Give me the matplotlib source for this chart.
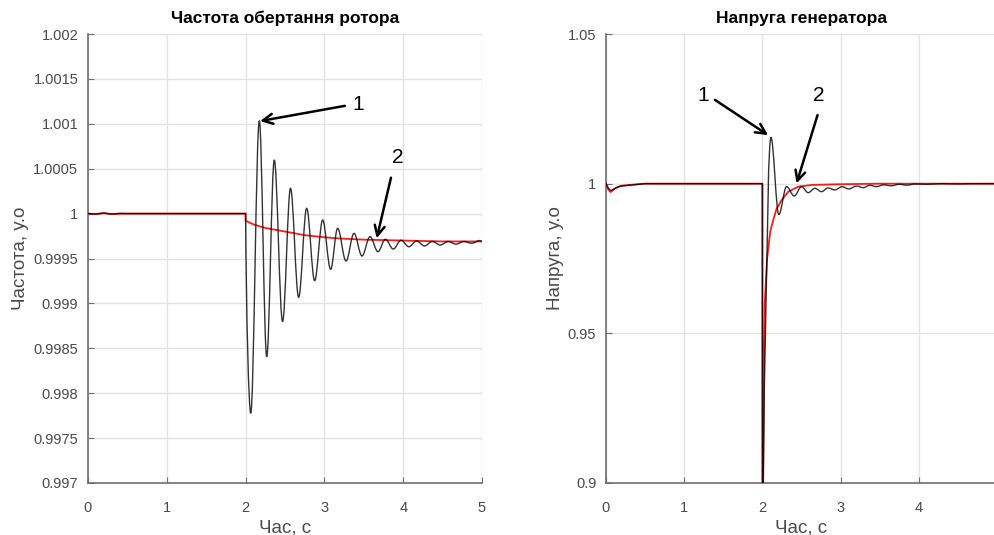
import matplotlib
matplotlib.use("Agg")
import matplotlib.pyplot as plt
from matplotlib.path import Path
from matplotlib.patches import PathPatch

plt.rcParams['font.family'] = ['Liberation Sans', 'DejaVu Sans']

# ---------------- data: rotor speed ----------------
# curve 1 (black): steady part, then the swing extremes after the fault
t_freq_1_steady = [0, 0.1, 0.2, 0.3, 0.4, 0.5, 2.0]
freq_1_steady = [1.0, 0.999995, 1.000005, 0.999995, 1.000003, 1.0, 1.0]
t_freq_1_swing = [2.0, 2.065, 2.174, 2.268, 2.364, 2.469, 2.57, 2.673, 2.775, 2.876, 2.978,
                  3.079, 3.168, 3.274, 3.376, 3.477, 3.579, 3.68, 3.773, 3.875, 3.972, 4.073,
                  4.17, 4.27, 4.37, 4.47, 4.57, 4.67, 4.77, 4.87, 4.97, 5.0]
freq_1_swing = [1.0, 0.997776, 1.001035, 0.998407, 1.000597, 0.998797, 1.000282, 0.999068,
                1.000059, 0.999253, 0.999929, 0.99938, 0.999836, 0.999472, 0.99978, 0.999528,
                0.999743, 0.999576, 0.999714, 0.999606, 0.999703, 0.999631, 0.999695, 0.99964,
                0.99969, 0.99965, 0.99969, 0.99966, 0.99969, 0.99967, 0.9997, 0.99969]

# curve 2 (red)
t_freq_2 = [0, 0.1, 0.2, 0.3, 0.5, 2.0, 2.0, 2.1, 2.25, 2.5, 2.75, 3.0, 3.25, 3.5, 3.75, 4.0, 4.5, 5.0]
freq_2 = [1.0, 0.999995, 1.000005, 0.999995, 1.0, 1.0, 0.99992, 0.99988, 0.99984, 0.9998,
          0.99976, 0.999736, 0.99972, 0.99971, 0.999705, 0.9997, 0.99969, 0.99969]

# ---------------- data: generator voltage ----------------
t_volt_1_steady = [0, 0.03, 0.064, 0.12, 0.18, 0.35, 0.5, 2.0, 2.003, 2.012, 2.025, 2.05, 2.075]
volt_1_steady = [1.0, 0.9985, 0.9977, 0.9985, 0.9992, 0.9996, 1.0, 1.0, 0.80, 0.90, 0.932,
                 0.965, 0.998]
t_volt_1_swing = [2.075, 2.109, 2.21, 2.309, 2.407, 2.50, 2.586, 2.671, 2.756, 2.841, 2.927,
                  3.02, 3.105, 3.204, 3.289, 3.374, 3.459, 3.55, 3.65, 3.75, 3.85, 3.95, 4.1,
                  4.3, 4.5, 4.7, 5.0]
volt_1_swing = [0.998, 1.0155, 0.9897, 0.9990, 0.9959, 0.9990, 0.9970, 0.99845, 0.99733,
                0.99857, 0.9979, 0.9990, 0.99823, 0.9992, 0.99866, 0.99945, 0.9990, 0.9996,
                0.9993, 0.9998, 0.9995, 0.9999, 0.9998, 1.0, 0.9999, 1.0, 1.0]

t_volt_2 = [0, 0.03, 0.06, 0.12, 0.2, 0.35, 0.5, 2.0, 2.0, 2.008, 2.018, 2.03, 2.06, 2.1, 2.14,
            2.18, 2.245, 2.33, 2.46, 2.63, 2.97, 3.5, 5.0]
volt_2 = [1.0, 0.998, 0.9972, 0.9985, 0.9993, 0.9997, 1.0, 1.0, 0.80, 0.90, 0.935, 0.96, 0.975,
          0.984, 0.988, 0.9915, 0.9945, 0.9973, 0.999, 0.99957, 0.9998, 1.0, 1.0]

freq_yticks = [0.997, 0.9975, 0.998, 0.9985, 0.999, 0.9995, 1.0, 1.0005, 1.001, 1.0015, 1.002]
freq_ylabels = ["0.997", "0.9975", "0.998", "0.9985", "0.999", "0.9995", "1", "1.0005",
                "1.001", "1.0015", "1.002"]
volt_yticks = [0.9, 0.95, 1.0, 1.05]
volt_ylabels = ["0.9", "0.95", "1", "1.05"]
freq_xticks = [0, 1, 2, 3, 4, 5]
volt_xticks = [0, 1, 2, 3, 4]

titles = ["Частота обертання ротора", "Напруга генератора"]
ylabels = ["Частота, у.о", "Напруга, у.о"]
xlabel = "Час, с"

W, H = 994, 535
fig = plt.figure(figsize=(W / 100, H / 100), dpi=100)


def px_axes(left, right, top, bottom):
    return fig.add_axes([left / W, (H - bottom) / H, (right - left) / W, (bottom - top) / H])


def smooth_swing(ax, ts, vs, **kw):
    """Draw a swing through its extremes with flat tangents at each extreme."""
    verts = [(ts[0], vs[0])]
    codes = [Path.MOVETO]
    for i in range(1, len(ts)):
        t0, v0, t1, v1 = ts[i - 1], vs[i - 1], ts[i], vs[i]
        d = (t1 - t0) * 0.36
        if i == 1:
            c1 = (t0 + d * 0.3, v0 + (v1 - v0) * 0.5)
        else:
            c1 = (t0 + d, v0)
        verts += [c1, (t1 - d, v1), (t1, v1)]
        codes += [Path.CURVE4] * 3
    ax.add_patch(PathPatch(Path(verts, codes), fill=False, **kw))


ax1 = px_axes(88, 482, 34, 483)
ax2 = px_axes(606, 997, 34, 483)

tick_col = '#4a4a4a'
spine_col = '#6e6e6e'

for ax, xt, yt, yl, ylim, title, ylab, ylx in [
        (ax1, freq_xticks, freq_yticks, freq_ylabels, (0.997, 1.002), titles[0], ylabels[0], -0.149),
        (ax2, volt_xticks, volt_yticks, volt_ylabels, (0.9, 1.05), titles[1], ylabels[1], -0.108)]:
    ax.set_xlim(0, 5)
    ax.set_ylim(*ylim)
    ax.set_xticks(xt)
    ax.set_yticks(yt)
    ax.set_yticklabels(yl)
    ax.grid(True, color='#e3e3e3', linewidth=1.0)
    ax.set_axisbelow(True)
    for s in ['top', 'right']:
        ax.spines[s].set_visible(False)
    for s in ['left', 'bottom']:
        ax.spines[s].set_color(spine_col)
        ax.spines[s].set_linewidth(1.2)
    ax.tick_params(direction='in', length=4, width=0.8, colors=spine_col,
                   labelcolor=tick_col, labelsize=10.5)
    ax.tick_params(axis='x', pad=13)
    ax.tick_params(axis='y', pad=7)
    ax.text(0.5, 1.035, title, transform=ax.transAxes, ha='center', va='center',
            fontsize=12.5, fontweight='bold', color='black')
    ax.set_ylabel(ylab, fontsize=13.5, color=tick_col)
    ax.yaxis.set_label_coords(ylx, 0.5)
    ax.set_xlabel(xlabel, fontsize=13.5, color=tick_col, va='center')
    ax.xaxis.set_label_coords(0.5, -0.1)

red = '#ff1a1a'
ax1.plot(t_freq_2, freq_2, color=red, lw=1.3, zorder=3)
ax1.plot(t_freq_1_steady, freq_1_steady, color='black', lw=1.0, alpha=0.8, zorder=4)
smooth_swing(ax1, t_freq_1_swing, freq_1_swing, edgecolor='black', lw=1.0, alpha=0.8, zorder=4)

ax2.plot(t_volt_2, volt_2, color=red, lw=1.3, zorder=3)
ax2.plot(t_volt_1_steady, volt_1_steady, color='black', lw=1.0, alpha=0.8, zorder=4)
smooth_swing(ax2, t_volt_1_swing, volt_1_swing, edgecolor='black', lw=1.0, alpha=0.8, zorder=4)

arrow = dict(arrowstyle='->', color='black', lw=1.8, mutation_scale=18, shrinkA=0, shrinkB=0)
ax1.annotate('', xy=(2.183, 1.00103), xytext=(3.26, 1.0012), arrowprops=arrow, zorder=6)
ax1.text(3.43, 1.00122, '1', fontsize=15, ha='center', va='center')
ax1.annotate('', xy=(3.664, 0.999725), xytext=(3.845, 1.0004), arrowprops=arrow, zorder=6)
ax1.text(3.934, 1.00062, '2', fontsize=15, ha='center', va='center')

ax2.annotate('', xy=(2.074, 1.0162), xytext=(1.393, 1.028), arrowprops=arrow, zorder=6)
ax2.text(1.24, 1.0293, '1', fontsize=15, ha='center', va='center')
ax2.annotate('', xy=(2.437, 1.0001), xytext=(2.705, 1.0229), arrowprops=arrow, zorder=6)
ax2.text(2.72, 1.0293, '2', fontsize=15, ha='center', va='center')

fig.savefig('out.png', dpi=100)
